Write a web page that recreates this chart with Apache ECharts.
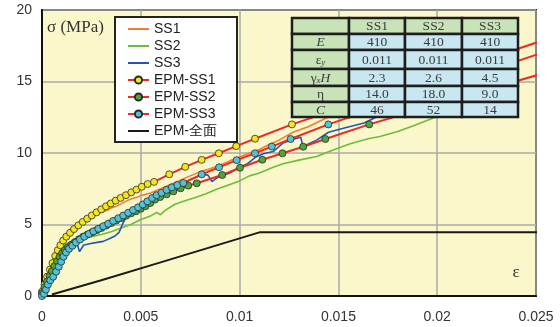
<!DOCTYPE html>
<html><head><meta charset="utf-8">
<script src="https://cdn.jsdelivr.net/npm/echarts@6/dist/echarts.min.js"></script>
<style>html,body{margin:0;padding:0;background:#fff}#c{width:560px;height:327px}</style>
</head><body><div id="c"></div>
<script>
const xTicks = ['0','0.005','0.01','0.015','0.02','0.025'];
const yTicks = ['0','5','10','15','20'];

const SS1 = [[0,0.2],[0.0003,1.4],[0.0006,2.6],[0.0009,3.6],[0.0012,4.3],[0.0015,4.7],[0.002,5.15],[0.0025,5.5],[0.003,5.85],[0.0033,6.0],[0.0035,6.15],[0.0038,6.3],[0.0042,6.6],[0.0045,6.78],[0.0048,6.9],[0.005,7.02],[0.0055,7.2],[0.006,7.5],[0.0065,7.8],[0.007,8.1],[0.0075,8.4],[0.008,8.68],[0.0085,8.9],[0.009,9.15],[0.0095,9.45],[0.01,9.72],[0.0105,10.0],[0.011,10.25],[0.0115,10.6],[0.012,10.9],[0.0127,11.45],[0.0135,11.85],[0.0147,12.66],[0.0152,12.9]];
const SS2 = [[0,0.3],[0.0002,1.0],[0.0005,2.0],[0.0008,2.9],[0.0011,3.5],[0.0015,3.85],[0.002,4.05],[0.0025,4.15],[0.003,4.3],[0.0035,4.5],[0.004,4.75],[0.0045,5.0],[0.005,5.35],[0.0055,5.6],[0.0058,5.85],[0.006,5.68],[0.0062,5.95],[0.0067,6.4],[0.0072,6.65],[0.0078,6.9],[0.0083,7.15],[0.0088,7.45],[0.0093,7.7],[0.01,8.05],[0.0105,8.4],[0.011,8.6],[0.0117,9.0],[0.0122,9.25],[0.013,9.5],[0.0139,9.75],[0.0147,10.2],[0.0156,10.65],[0.0165,11.0],[0.0171,11.15],[0.018,11.5],[0.0188,11.9],[0.0198,12.45],[0.0205,12.8]];
const SS3 = [[0,0],[0.0003,0.8],[0.0006,1.6],[0.0009,2.4],[0.0012,3.1],[0.0015,3.5],[0.0017,3.72],[0.00182,3.45],[0.0019,3.1],[0.0021,3.55],[0.0024,3.65],[0.0028,3.75],[0.0031,3.82],[0.0034,4.0],[0.0037,4.2],[0.0039,4.45],[0.0041,5.1],[0.0043,5.6],[0.0047,6.0],[0.0052,6.45],[0.0057,6.9],[0.0062,7.3],[0.0067,7.65],[0.0072,7.95],[0.0077,8.25],[0.0081,8.5],[0.0084,8.45],[0.0086,8.0],[0.0089,8.3],[0.0095,8.6],[0.01,9.0],[0.0104,9.25],[0.0108,9.7],[0.0112,9.95],[0.0117,10.1],[0.0122,10.7],[0.0128,11.0],[0.0131,11.1],[0.0132,10.45],[0.0139,10.9],[0.0145,11.45],[0.0153,11.75],[0.0163,12.1],[0.0169,12.5]];

const EPM1 = [[0,0.3],[0.00013,0.8],[0.00026,1.35],[0.0004,1.85],[0.00053,2.3],[0.00067,2.8],[0.0008,3.2],[0.00093,3.55],[0.00107,3.88],[0.00123,4.15],[0.00142,4.42],[0.00162,4.68],[0.00184,4.94],[0.00206,5.18],[0.00229,5.41],[0.00252,5.63],[0.00276,5.85],[0.003,6.06],[0.00324,6.27],[0.00348,6.47],[0.00373,6.67],[0.00398,6.86],[0.00425,7.05],[0.00452,7.25],[0.00478,7.44],[0.00505,7.64],[0.00535,7.83],[0.00567,7.98],[0.00644,8.51],[0.00725,9.03],[0.00808,9.52],[0.00895,9.98],[0.00983,10.48],[0.01078,11.0],[0.01265,12.0],[0.0253,17.85]];
const EPM2 = [[0,0.2],[0.00012,0.6],[0.00025,1.0],[0.00038,1.4],[0.0005,1.75],[0.00063,2.1],[0.00076,2.45],[0.00089,2.75],[0.00102,3.0],[0.00116,3.2],[0.00131,3.4],[0.00148,3.58],[0.00167,3.78],[0.00187,3.97],[0.00208,4.15],[0.0023,4.3],[0.00253,4.45],[0.00277,4.6],[0.00301,4.76],[0.00326,4.93],[0.00351,5.1],[0.00376,5.28],[0.00401,5.45],[0.00426,5.62],[0.00451,5.78],[0.00476,5.93],[0.005,6.1],[0.00524,6.28],[0.00548,6.5],[0.00572,6.74],[0.00598,6.92],[0.00631,7.11],[0.00665,7.32],[0.00702,7.53],[0.0074,7.72],[0.00783,7.88],[0.00912,8.46],[0.01002,8.97],[0.01115,9.53],[0.01217,9.98],[0.01322,10.44],[0.01434,10.98],[0.01656,12.0],[0.0253,15.55]];
const EPM3 = [[0,0],[0.0001,0.15],[0.0002,0.45],[0.0003,0.8],[0.00042,1.1],[0.00057,1.35],[0.00072,1.7],[0.00085,2.05],[0.00097,2.4],[0.00109,2.75],[0.00122,3.05],[0.00137,3.3],[0.00154,3.52],[0.00172,3.74],[0.00192,3.95],[0.00214,4.15],[0.00237,4.34],[0.0026,4.52],[0.00285,4.7],[0.0031,4.88],[0.00335,5.06],[0.0036,5.25],[0.00386,5.44],[0.00411,5.63],[0.00436,5.82],[0.00461,6.01],[0.00486,6.2],[0.0051,6.4],[0.00533,6.62],[0.00557,6.85],[0.0058,7.05],[0.00605,7.22],[0.0063,7.42],[0.00657,7.6],[0.00685,7.76],[0.00715,7.9],[0.00808,8.51],[0.00896,9.0],[0.00985,9.5],[0.01078,9.98],[0.01163,10.45],[0.01258,10.98],[0.01449,12.0],[0.0253,17.0]];
const EPMALL = [[0.0005,0.1],[0.003,1.1],[0.006,2.35],[0.0085,3.4],[0.011,4.45],[0.0253,4.45]];

const seriesNames = ['SS1','SS2','SS3','EPM-SS1','EPM-SS2','EPM-SS3','EPM-全面'];
const markerlessNames = ['SS1','SS2','SS3','EPM-全面'];
const tableHeader = ['', 'SS1', 'SS2', 'SS3'];
const tableRowLabels = ['{i|E}', 'ε{sub|y}', 'γ{subi|x}{i|H}', 'η', '{i|C}'];
const tableValues = [['410','410','410'],['0.011','0.011','0.011'],['2.3','2.6','4.5'],['14.0','18.0','9.0'],['46','52','14']];

// layout of table (pixels)
const colX = [292, 349, 405, 462, 518];
const rowY = [18, 34, 50, 69, 86, 102, 117];

function epmData(arr) {
  return arr.map((p, i) => i === arr.length - 1 ? {value: p, symbol: 'none'} : p);
}

const graphic = [];
const green = '#c9e3b9', blue = '#c8e7f0';
for (let r = 0; r < 6; r++) {
  for (let c = 0; c < 4; c++) {
    const isHead = r === 0 || c === 0;
    let text = '';
    if (r === 0) text = tableHeader[c];
    else if (c === 0) text = tableRowLabels[r - 1];
    else text = tableValues[r - 1][c - 1];
    graphic.push({
      type: 'rect', z: 100,
      shape: {x: colX[c], y: rowY[r], width: colX[c+1] - colX[c], height: rowY[r+1] - rowY[r]},
      style: {fill: isHead ? green : blue, stroke: '#1e1e1e', lineWidth: 2.5}
    });
    graphic.push({
      type: 'text', z: 101,
      x: (colX[c] + colX[c+1]) / 2, y: (rowY[r] + rowY[r+1]) / 2 + 0.5,
      style: {
        text: text, fill: '#3a3a3a', font: '13.5px "Liberation Serif", "Times New Roman", serif',
        align: 'center', verticalAlign: 'middle',
        rich: {
          i: {fontStyle: 'italic', fontSize: 13.5, fontFamily: 'Liberation Serif', fill: '#3a3a3a'},
          sub: {fontStyle: 'italic', fontSize: 9, fontFamily: 'Liberation Serif', verticalAlign: 'bottom', padding: [6,0,0,0], fill: '#3a3a3a'},
          subi: {fontStyle: 'italic', fontSize: 9, fontFamily: 'Liberation Serif', verticalAlign: 'bottom', padding: [6,0,0,0], fill: '#3a3a3a'}
        }
      }
    });
  }
}
graphic.push({type: 'text', z: 50, x: 47, y: 19, style: {text: 'σ (MPa)', fill: '#333', font: '17px "Liberation Serif", serif'}});
graphic.push({type: 'text', z: 50, x: 516, y: 273, style: {text: 'ε', fill: '#333', font: '17px "Liberation Serif", serif', align: 'center', verticalAlign: 'middle'}});

const chart = echarts.init(document.getElementById('c'), null, {renderer: 'canvas'});
const lineBase = (name, data, color) => ({
  name, type: 'line', data, showSymbol: false, symbol: 'none', smooth: false,
  lineStyle: {color, width: 1.6}, itemStyle: {color}, z: 2, animation: false
});
const epm = (name, data, fill) => ({
  name, type: 'line', data: epmData(data), symbol: 'circle', symbolSize: 7, showSymbol: true,
  clip: false, lineStyle: {color: '#ee2a24', width: 2},
  itemStyle: {color: fill, borderColor: '#2a2a2a', borderWidth: 0.8}, z: 3, animation: false
});

const legendData = seriesNames.map(n => markerlessNames.includes(n)
  ? {name: n, itemStyle: {color: 'rgba(0,0,0,0)', borderWidth: 0, opacity: 0}}
  : {name: n});

chart.setOption({
  animation: false,
  backgroundColor: '#ffffff',
  grid: {left: 42, right: 24, top: 10, bottom: 31, show: true, backgroundColor: '#faf7cb', borderColor: '#222', borderWidth: 2},
  legend: {
    orient: 'vertical', left: 115, top: 17, padding: [5, 20, 4, 12],
    itemWidth: 21, itemHeight: 9, itemGap: 3,
    backgroundColor: '#ffffff', borderColor: '#222', borderWidth: 2,
    textStyle: {fontFamily: 'Liberation Sans, Arial, sans-serif', fontSize: 14, color: '#222'},
    data: legendData
  },
  xAxis: {
    type: 'value', min: 0, max: 0.025, interval: 0.005,
    axisLine: {show: true, onZero: false, lineStyle: {color: '#111', width: 2}},
    axisTick: {show: false},
    splitLine: {show: true, lineStyle: {color: '#aaa', width: 1.5}},
    axisLabel: {margin: 14, fontSize: 14, color: '#333', fontFamily: 'Liberation Sans, Arial, sans-serif',
      formatter: v => xTicks[Math.round(v / 0.005)]}
  },
  yAxis: {
    type: 'value', min: 0, max: 20, interval: 5,
    axisLine: {show: true, lineStyle: {color: '#111', width: 2}},
    axisTick: {show: false},
    splitLine: {show: true, lineStyle: {color: '#aaa', width: 1.5}},
    axisLabel: {margin: 10, fontSize: 14, color: '#333', fontFamily: 'Liberation Sans, Arial, sans-serif',
      formatter: v => yTicks[Math.round(v / 5)]}
  },
  graphic: graphic,
  series: [
    lineBase('SS1', SS1, '#f47b32'),
    lineBase('SS2', SS2, '#6cbd3c'),
    lineBase('SS3', SS3, '#2456b8'),
    epm('EPM-SS1', EPM1, '#f4e51c'),
    epm('EPM-SS2', EPM2, '#4ea63a'),
    epm('EPM-SS3', EPM3, '#52c2d8'),
    {name: 'EPM-全面', type: 'line', data: EPMALL, symbol: 'none', clip: false,
     lineStyle: {color: '#1a1a1a', width: 2}, itemStyle: {color: '#1a1a1a'}, z: 3, animation: false}
  ]
});
</script></body></html>
